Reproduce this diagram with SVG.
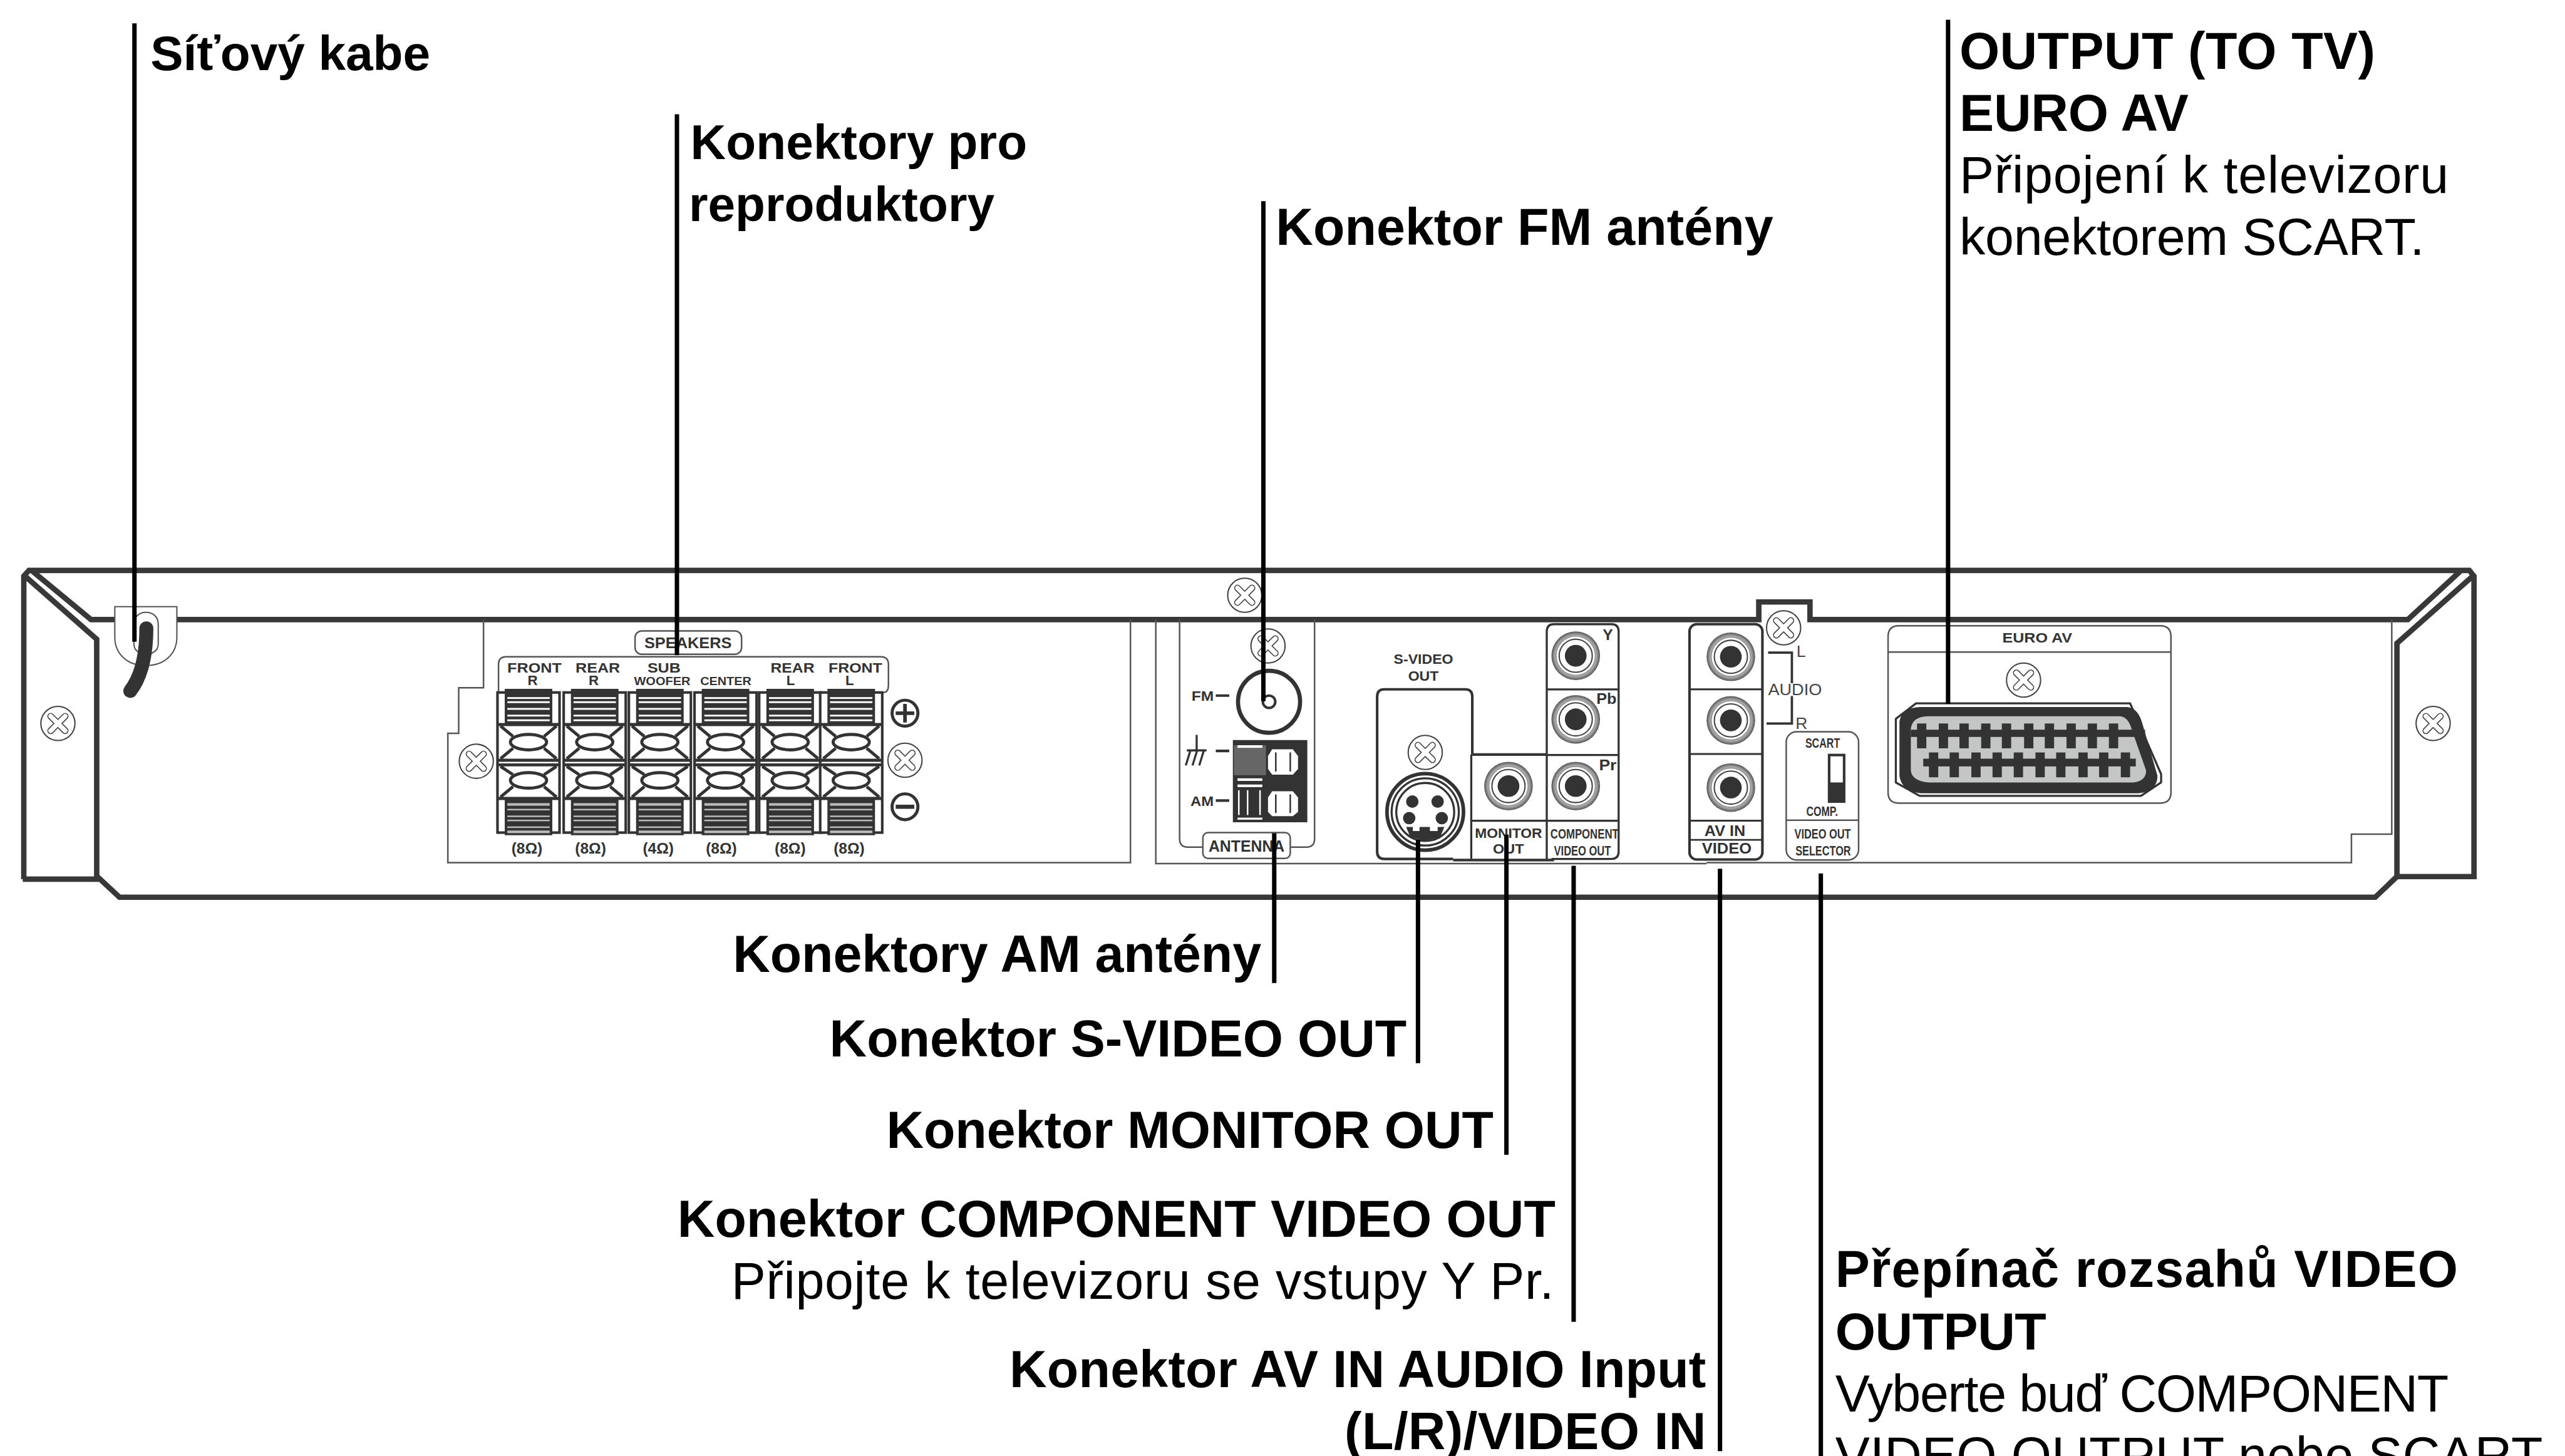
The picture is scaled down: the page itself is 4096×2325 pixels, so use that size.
<svg xmlns="http://www.w3.org/2000/svg" xmlns:xlink="http://www.w3.org/1999/xlink" width="4096" height="2325" viewBox="0 0 4096 2325">
<style>
text{font-family:"Liberation Sans",Arial,sans-serif}
.b{font-size:100px;font-weight:700;fill:#000}
.t{font-size:95px}
.r{font-size:100px;font-weight:400;fill:#000}
.d{font-weight:700;fill:#333;font-size:27px}
.n{font-weight:400;fill:#444;font-size:32px}
.c{text-anchor:middle}
.th{fill:none;stroke:#383838;stroke-width:10.5;stroke-linejoin:miter}
.tn{fill:none;stroke:#555;stroke-width:3}
.md{fill:none;stroke:#333;stroke-width:5}
.lead{fill:none;stroke:#000;stroke-width:8.5}
.k{fill:#333}
</style>
<defs>
<radialGradient id="ring"><stop offset="0.7" stop-color="#666"/><stop offset="0.85" stop-color="#aaa"/><stop offset="1" stop-color="#555"/></radialGradient>
<g id="screw"><circle r="33" fill="#fff" stroke="#444" stroke-width="2.5"/><path d="M-14-14L14 14M14-14L-14 14" stroke="#444" stroke-width="13" stroke-linecap="round"/><path d="M-14-14L14 14M14-14L-14 14" stroke="#fff" stroke-width="9" stroke-linecap="round"/></g>
<g id="rca"><circle r="47" fill="url(#ring)"/><circle r="37" fill="#fff"/><circle r="32" fill="#fff" stroke="#444" stroke-width="2.5"/><circle r="21" fill="#333"/></g>
<g id="term">
<rect x="-60" y="1339" width="120" height="271" fill="#fff" stroke="#333" stroke-width="5"/>
<rect x="-46" y="1332" width="92" height="67" class="k"/>
<g fill="#fff"><rect x="-41" y="1348" width="82" height="3.5"/><rect x="-41" y="1356" width="82" height="3.5"/><rect x="-41" y="1369" width="82" height="3.5"/><rect x="-41" y="1382" width="82" height="3.5"/><rect x="-41" y="1391" width="82" height="3.5"/></g>
<rect x="-46" y="1542" width="92" height="73" class="k"/>
<g fill="#bbb"><rect x="-41" y="1553" width="82" height="5"/><rect x="-41" y="1564" width="82" height="3"/><rect x="-41" y="1577" width="82" height="3"/><rect x="-41" y="1585" width="82" height="3"/><rect x="-41" y="1598" width="82" height="3"/><rect x="-41" y="1606" width="82" height="5"/></g>
<g stroke="#333" stroke-width="6" fill="none">
<path d="M-60 1401H60M-60 1470H60M-60 1479H60M-60 1544H60"/>
<path d="M-54 1404L-30 1424M54 1404L30 1424M-54 1467L-30 1447M54 1467L30 1447M-54 1482L-30 1498M54 1482L30 1498M-54 1541L-30 1521M54 1541L30 1521"/>
<ellipse cy="1435" rx="35" ry="15"/><ellipse cy="1509" rx="35" ry="15"/>
</g>
</g>
</defs>
<g transform="scale(.82581)">
<rect width="4960" height="2816" fill="#fff"/>

<g id="chassis">
<path class="th" d="M46 1700V1114L56 1103H4775L4784 1114V1695H4635V1244L4784 1112M46 1112L187 1236V1700H44M187 1694L231 1735H4593L4635 1695"/>
<path class="th" d="M61 1103L176 1198H222M342 1198H3401V1164H3500V1198H4656L4757 1105"/>
</g>

<g id="panels">
<path class="tn" d="M935 1198V1330H887V1418H866V1668H2186V1198"/>
<path class="tn" d="M2235 1198V1670H3300M3300 1668H4547V1613H4625V1198"/>
</g>

<g id="screws">
<use xlink:href="#screw" x="112" y="1399"/>
<use xlink:href="#screw" x="4705" y="1399"/>
<use xlink:href="#screw" x="2407" y="1151"/>
<use xlink:href="#screw" x="921" y="1472"/>
<use xlink:href="#screw" x="1750" y="1470"/>
<use xlink:href="#screw" x="2452" y="1249"/>
<use xlink:href="#screw" x="2756" y="1455"/>
<use xlink:href="#screw" x="3449" y="1214"/>
<use xlink:href="#screw" x="3913" y="1315"/>
</g>

<g id="power-cord">
<path d="M222 1173H342V1232C342 1262 320 1287 282 1287C244 1287 222 1262 222 1232Z" fill="#fff" stroke="#555" stroke-width="2.5"/>
<path d="M259 1207C259 1192 270 1184 282 1184C295 1184 306 1192 306 1207V1245C306 1258 295 1265 282 1265C270 1265 259 1258 259 1245Z" fill="#fff" stroke="#555" stroke-width="2.5"/>
<path d="M283 1215C283 1270 272 1310 252 1336" fill="none" stroke="#333" stroke-width="27" stroke-linecap="round"/>
</g>

<g id="speakers">
<rect x="1228" y="1220" width="206" height="45" rx="13" fill="#fff" class="tn"/>
<text class="d" x="1246" y="1253" style="font-size:30px" textLength="169" lengthAdjust="spacingAndGlyphs">SPEAKERS</text>
<path class="tn" d="M964 1339V1285Q964 1270 979 1270H1703Q1718 1270 1718 1285V1325Q1718 1339 1708 1339"/>
<use xlink:href="#term" x="1022"/><use xlink:href="#term" x="1150"/><use xlink:href="#term" x="1276"/><use xlink:href="#term" x="1403"/><use xlink:href="#term" x="1528"/><use xlink:href="#term" x="1646"/>
<text class="d" x="981" y="1301" textLength="105" lengthAdjust="spacingAndGlyphs">FRONT</text>
<text class="d c" x="1030" y="1325">R</text>
<text class="d" x="1113" y="1301" textLength="86" lengthAdjust="spacingAndGlyphs">REAR</text>
<text class="d c" x="1148" y="1325">R</text>
<text class="d" x="1252" y="1301" textLength="64" lengthAdjust="spacingAndGlyphs">SUB</text>
<text class="d" x="1226" y="1325" style="font-size:22px" textLength="109" lengthAdjust="spacingAndGlyphs">WOOFER</text>
<text class="d" x="1354" y="1325" style="font-size:22px" textLength="99" lengthAdjust="spacingAndGlyphs">CENTER</text>
<text class="d" x="1490" y="1301" textLength="85" lengthAdjust="spacingAndGlyphs">REAR</text>
<text class="d c" x="1529" y="1325">L</text>
<text class="d" x="1602" y="1301" textLength="104" lengthAdjust="spacingAndGlyphs">FRONT</text>
<text class="d c" x="1643" y="1325">L</text>
<text class="d" x="989" y="1651" style="font-size:30px" textLength="60" lengthAdjust="spacingAndGlyphs">(8Ω)</text>
<text class="d" x="1112" y="1651" style="font-size:30px" textLength="60" lengthAdjust="spacingAndGlyphs">(8Ω)</text>
<text class="d" x="1243" y="1651" style="font-size:30px" textLength="60" lengthAdjust="spacingAndGlyphs">(4Ω)</text>
<text class="d" x="1365" y="1651" style="font-size:30px" textLength="60" lengthAdjust="spacingAndGlyphs">(8Ω)</text>
<text class="d" x="1498" y="1651" style="font-size:30px" textLength="60" lengthAdjust="spacingAndGlyphs">(8Ω)</text>
<text class="d" x="1612" y="1651" style="font-size:30px" textLength="60" lengthAdjust="spacingAndGlyphs">(8Ω)</text>
<g stroke="#333" fill="none" stroke-width="6"><circle cx="1750" cy="1379" r="25"/><path d="M1732 1379H1768M1750 1361V1397" stroke-width="7"/><circle cx="1750" cy="1560" r="25"/><path d="M1732 1560H1768" stroke-width="8"/></g>
</g>

<g id="antenna">
<path class="tn" d="M2281 1198V1622Q2281 1638 2297 1638H2326M2495 1638H2526Q2542 1638 2542 1622V1198"/>
<rect x="2326" y="1610" width="169" height="50" rx="10" fill="#fff" class="tn"/>
<text class="d" x="2337" y="1647" style="font-size:32px" textLength="147" lengthAdjust="spacingAndGlyphs">ANTENNA</text>
<circle cx="2454" cy="1357" r="60" fill="#fff" stroke="#333" stroke-width="8"/>
<circle cx="2454" cy="1357" r="12" fill="#fff" stroke="#333" stroke-width="5"/>
<text class="d" x="2304" y="1355" textLength="43" lengthAdjust="spacingAndGlyphs">FM</text>
<path d="M2351 1345H2377M2351 1452H2377M2351 1548H2377" stroke="#333" stroke-width="5"/>
<path d="M2314 1421V1450M2295 1451H2333M2302 1451L2293 1480M2315 1451L2306 1480M2328 1451L2319 1480" stroke="#333" stroke-width="4" fill="none"/>
<text class="d" x="2302" y="1558" textLength="45" lengthAdjust="spacingAndGlyphs">AM</text>
<rect x="2384" y="1431" width="144" height="159" class="k"/>
<rect x="2386" y="1441" width="62" height="58" fill="#666"/>
<rect x="2393" y="1441" width="48" height="5" fill="#fff"/>
<rect x="2393" y="1505" width="48" height="5" fill="#fff"/>
<rect x="2393" y="1517" width="48" height="5" fill="#fff"/>
<rect x="2393" y="1581" width="48" height="4" fill="#fff"/>
<rect x="2394" y="1528" width="3" height="48" fill="#fff"/><rect x="2411" y="1528" width="3" height="48" fill="#fff"/><rect x="2435" y="1528" width="3" height="48" fill="#fff"/>
<polygon points="2460,1449 2500,1449 2510,1462 2510,1487 2500,1498 2460,1498 2452,1487 2452,1462" fill="#fff"/>
<polygon points="2460,1530 2500,1530 2510,1542 2510,1570 2500,1578 2460,1578 2452,1570 2452,1542" fill="#fff"/>
<path d="M2467 1455V1492M2495 1455V1492M2467 1536V1572M2495 1536V1572" stroke="#333" stroke-width="3"/>
</g>

<g id="s-video">
<text class="d" x="2695" y="1284" textLength="115" lengthAdjust="spacingAndGlyphs">S-VIDEO</text>
<text class="d" x="2723" y="1316" textLength="59" lengthAdjust="spacingAndGlyphs">OUT</text>
<path class="md" d="M2847 1459V1347Q2847 1333 2833 1333H2677Q2663 1333 2663 1347V1647Q2663 1661 2677 1661H2810" />
<circle cx="2756" cy="1570" r="74" fill="#fff" stroke="#333" stroke-width="7"/>
<circle cx="2756" cy="1570" r="65" fill="none" stroke="#333" stroke-width="4"/>
<circle cx="2756" cy="1570" r="56" fill="none" stroke="#333" stroke-width="4"/>
<circle cx="2731" cy="1550" r="12" class="k"/><circle cx="2780" cy="1550" r="12" class="k"/>
<circle cx="2725" cy="1582" r="12" class="k"/><circle cx="2788" cy="1582" r="12" class="k"/>
<path class="k" d="M2719 1599H2732V1607H2745V1599H2765V1607H2780V1599H2793L2785 1618L2756 1626L2727 1618Z"/>
</g>

<g id="monitor-component">
<path class="md" d="M2847 1459H2991"/>
<path class="md" d="M2810 1663H3005" />
<path class="md" style="stroke-width:4" d="M3000 1661H3116Q3130 1661 3130 1647V1221Q3130 1207 3116 1207H3005Q2991 1207 2991 1221V1661M2991 1333H3130M2991 1460H3130M2845 1587H3130M2845 1459V1661"/>
<use xlink:href="#rca" x="3047" y="1268"/><use xlink:href="#rca" x="3047" y="1391"/><use xlink:href="#rca" x="3047" y="1520"/><use xlink:href="#rca" x="2917" y="1520"/>
<text class="d" x="3099" y="1237" style="font-size:30px">Y</text>
<text class="d" x="3087" y="1361" style="font-size:30px" textLength="39" lengthAdjust="spacingAndGlyphs">Pb</text>
<text class="d" x="3092" y="1489" style="font-size:30px" textLength="34" lengthAdjust="spacingAndGlyphs">Pr</text>
<text class="d" x="2852" y="1620" textLength="130" lengthAdjust="spacingAndGlyphs">MONITOR</text>
<text class="d" x="2887" y="1651" textLength="60" lengthAdjust="spacingAndGlyphs">OUT</text>
<text class="d" x="2998" y="1622" textLength="132" lengthAdjust="spacingAndGlyphs">COMPONENT</text>
<text class="d" x="3005" y="1654" textLength="110" lengthAdjust="spacingAndGlyphs">VIDEO OUT</text>
</g>

<g id="av-in">
<rect x="3267" y="1207" width="141" height="455" rx="14" fill="#fff" class="md"/>
<path class="md" style="stroke-width:3.5" d="M3267 1333H3408M3267 1458H3408M3267 1587H3408M3267 1624H3408"/>
<use xlink:href="#rca" x="3347" y="1270"/><use xlink:href="#rca" x="3347" y="1393"/><use xlink:href="#rca" x="3347" y="1523"/>
<text class="d" x="3296" y="1617" style="font-size:30px" textLength="79" lengthAdjust="spacingAndGlyphs">AV IN</text>
<text class="d" x="3291" y="1651" style="font-size:30px" textLength="96" lengthAdjust="spacingAndGlyphs">VIDEO</text>
<path d="M3419 1262H3465V1321M3465 1346V1399H3416" fill="none" stroke="#333" stroke-width="4.5"/>
<text class="n" x="3474" y="1270">L</text>
<text class="n" x="3472" y="1409">R</text>
<text class="n" x="3419" y="1344" textLength="104" lengthAdjust="spacingAndGlyphs">AUDIO</text>
</g>

<g id="selector">
<rect x="3454" y="1415" width="140" height="248" rx="20" fill="#fff" class="tn"/>
<path class="tn" d="M3454 1586H3594"/>
<text class="d" x="3491" y="1446" textLength="67" lengthAdjust="spacingAndGlyphs">SCART</text>
<rect x="3537" y="1460" width="29" height="90" fill="#fff" stroke="#333" stroke-width="5"/>
<rect x="3537" y="1513" width="29" height="37" class="k"/>
<text class="d" x="3493" y="1578" textLength="61" lengthAdjust="spacingAndGlyphs">COMP.</text>
<text class="d" x="3470" y="1622" textLength="109" lengthAdjust="spacingAndGlyphs">VIDEO OUT</text>
<text class="d" x="3472" y="1654" textLength="107" lengthAdjust="spacingAndGlyphs">SELECTOR</text>
</g>

<g id="euro-av">
<path class="tn" d="M3651 1231Q3651 1210 3672 1210H4177Q4198 1210 4198 1231V1532Q4198 1553 4177 1553H3672Q3651 1553 3651 1532ZM3651 1261H4198"/>
<text class="d" x="3872" y="1243" textLength="135" lengthAdjust="spacingAndGlyphs">EURO AV</text>
<path d="M3705 1360H4119L4179 1497V1513L4140 1539H3712L3666 1513V1390Z" fill="#fff" stroke="#333" stroke-width="4" stroke-linejoin="round"/>
<path class="k" d="M3712 1367L4113 1367Q4135 1369 4143 1400L4172 1500Q4172 1530 4135 1534L3715 1534Q3677 1530 3673 1500L3673 1395Q3677 1369 3712 1367Z"/>
<path fill="#c4c6c6" d="M3730 1385L4098 1385Q4115 1385 4122 1410L4150 1490Q4150 1510 4125 1513L3730 1513Q3697 1510 3695 1490L3695 1410Q3697 1385 3730 1385Z"/>
<g class="k">
<rect x="3695" y="1411" width="453" height="14"/><rect x="3719" y="1467" width="411" height="15"/>
<rect x="3707" y="1399" width="18" height="48"/><rect x="3749" y="1399" width="18" height="48"/><rect x="3789" y="1399" width="18" height="48"/><rect x="3831" y="1399" width="18" height="48"/><rect x="3871" y="1399" width="18" height="48"/><rect x="3914" y="1399" width="18" height="48"/><rect x="3954" y="1399" width="18" height="48"/><rect x="3996" y="1399" width="18" height="48"/><rect x="4037" y="1399" width="18" height="48"/><rect x="4078" y="1399" width="18" height="48"/>
<rect x="3730" y="1455" width="18" height="48"/><rect x="3770" y="1455" width="18" height="48"/><rect x="3812" y="1455" width="18" height="48"/><rect x="3853" y="1455" width="18" height="48"/><rect x="3894" y="1455" width="18" height="48"/><rect x="3936" y="1455" width="18" height="48"/><rect x="3976" y="1455" width="18" height="48"/><rect x="4019" y="1455" width="18" height="48"/><rect x="4059" y="1455" width="18" height="48"/><rect x="4101" y="1455" width="18" height="48"/>
</g>
</g>

<g id="connectors">
<path class="lead" d="M260 45V1241"/>
<path class="lead" d="M1309 221V1267"/>
<path class="lead" d="M2443 389V1356"/>
<path class="lead" d="M3767 38V1361"/>
<path class="lead" d="M2464 1611V1901"/>
<path class="lead" d="M2742 1624V2056"/>
<path class="lead" d="M2913 1614V2233"/>
<path class="lead" d="M3043 1674V2556"/>
<path class="lead" d="M3326 1680V2806"/>
<path class="lead" d="M3521 1689V2816"/>
</g>

<g id="labels">
<text class="b t" x="291" y="136" textLength="541">Síťový kabe</text>
<text class="b t" x="1335" y="307" textLength="651">Konektory pro</text>
<text class="b t" x="1332" y="427" textLength="591">reproduktory</text>
<text class="b" x="2467" y="474" textLength="962">Konektor FM antény</text>
<text class="b" x="3789" y="133" textLength="804">OUTPUT (TO TV)</text>
<text class="b" x="3789" y="253" textLength="443">EURO AV</text>
<text class="r" x="3789" y="373" textLength="946">Připojení k televizoru</text>
<text class="r" x="3789" y="493" textLength="899">konektorem SCART.</text>
<text class="b" x="1417" y="1879" textLength="1022">Konektory AM antény</text>
<text class="b" x="1604" y="2043" textLength="1116">Konektor S-VIDEO OUT</text>
<text class="b" x="1714" y="2220" textLength="1174">Konektor MONITOR OUT</text>
<text class="b" x="1310" y="2391" textLength="1698">Konektor COMPONENT VIDEO OUT</text>
<text class="r" x="1414" y="2511" textLength="1591">Připojte k televizoru se vstupy Y Pr.</text>
<text class="b" x="1952" y="2682" textLength="1347">Konektor AV IN AUDIO Input</text>
<text class="b" x="2600" y="2802" textLength="699">(L/R)/VIDEO IN</text>
<text class="b" x="3549" y="2489" textLength="1204">Přepínač rozsahů VIDEO</text>
<text class="b" x="3549" y="2609" textLength="408">OUTPUT</text>
<text class="r" x="3549" y="2729" textLength="1186">Vyberte buď COMPONENT</text>
<text class="r" x="3549" y="2849" textLength="1368">VIDEO OUTPUT nebo SCART</text>
</g>
</g>
</svg>
